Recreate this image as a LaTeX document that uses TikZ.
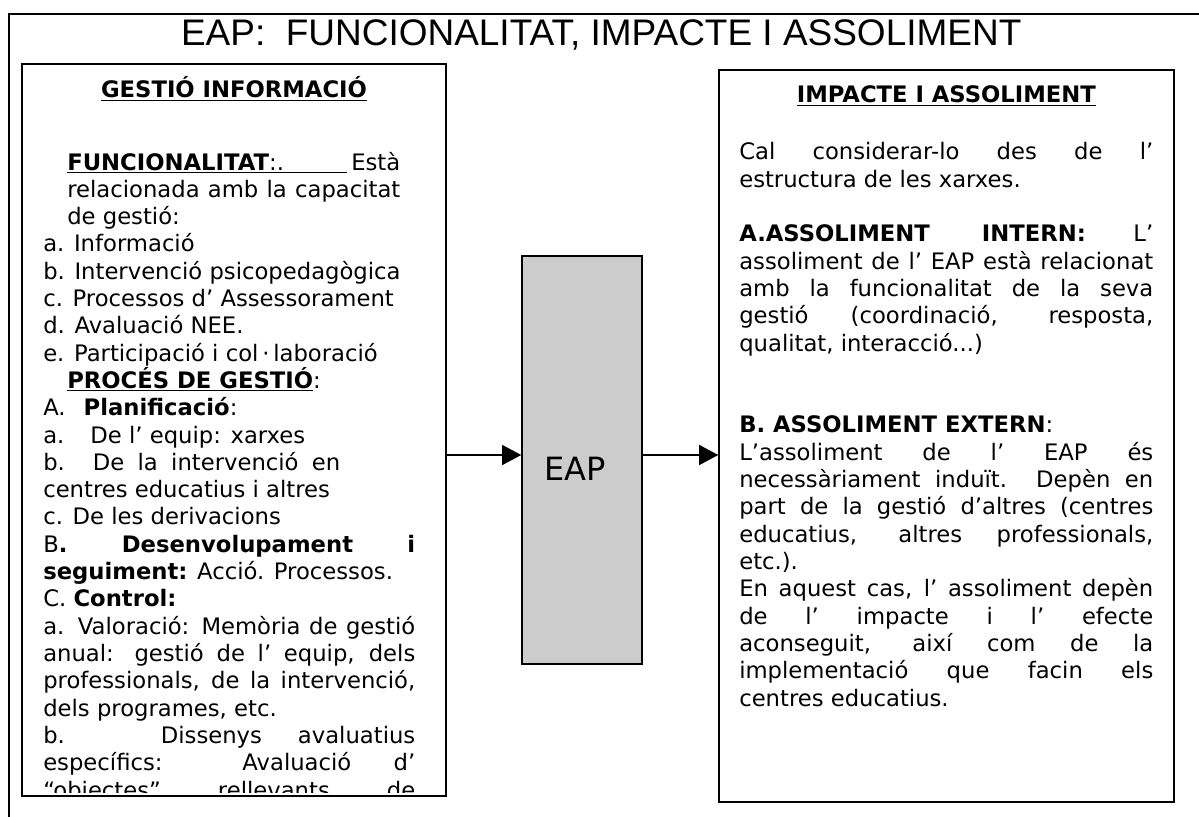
\documentclass[tikz,border=0pt]{standalone}
\usepackage{fontspec}
\setmainfont{DejaVu Sans}
\newfontfamily\titlefont{Liberation Sans}
\usepackage{tikz}
\usetikzlibrary{arrows.meta,positioning}
\definecolor{eapgray}{HTML}{CCCCCC}
\newcommand{\jl}[1]{\hbox to 9.3cm{#1}}
\newcommand{\jr}[1]{\hbox to 10.35cm{#1}}

\begin{document}
\begin{tikzpicture}[
    panel/.style={draw, line width=1.1pt, inner sep=0pt},
    bodytext/.style={anchor=base west, align=left, inner sep=0pt, font=\fontsize{16.15pt}{19.42pt}\selectfont},
    heading/.style={anchor=base, inner sep=0pt, font=\bfseries\fontsize{16.15pt}{19.42pt}\selectfont},
    flow/.style={line width=0.9pt, -{Triangle[length=0.475cm, width=0.5cm]}}
]
    \useasboundingbox (0,0) rectangle (29.975,20.4);

    % outer frame, cut by the page on the right and below
    \draw[line width=1.8pt] (0.225,-0.5) -- (0.225,20.05) -- (30.5,20.05);
    \node[font=\titlefont\fontsize{26.3pt}{30pt}\selectfont, anchor=base, inner sep=0pt] (titol) at (15.03,19.25) {EAP:\ \ FUNCIONALITAT, IMPACTE I ASSOLIMENT};

    % three boxes
    \node[panel, minimum width=10.6cm, minimum height=18.3cm] (gestio) at (5.85,9.65) {};
    \node[panel, minimum width=11.375cm, minimum height=18.3cm] (impacte) at (23.6625,9.5) {};
    \node[panel, fill=eapgray, minimum width=3cm, minimum height=10.2cm, font=\fontsize{22.8pt}{26pt}\selectfont, text height=1cm, text depth=0pt] (eap) at (14.55,8.9) {EAP\kern0.35cm};

    \coordinate (fletxa) at (0,9.025);
    \draw[flow] (gestio.east |- fletxa) -- (eap.west |- fletxa);
    \draw[flow] (eap.east |- fletxa) -- (impacte.west |- fletxa);

    % left box (the base of a multi-line node is its last line)
    \node[heading] (gestiotitol) at (5.85,17.95) {\underline{GESTIÓ INFORMACIÓ}};
    \begin{scope}
        \clip (0.55,0.58) rectangle (11.15,18.8);
        \node[bodytext] (gestiotext) at (1.075,0.45) {%
            \hbox to 8.925cm{\hspace{0.6cm}\underline{\hbox to 7cm{\textbf{FUNCIONALITAT}:.\hfil}}\hfil Està}\\
            \hbox to 8.925cm{\hspace{0.6cm}relacionada amb la capacitat}\\
            \hspace*{0.6cm}de gestió:\\
            a. Informació\\
            b. Intervenció psicopedagògica\\
            c. Processos d’ Assessorament\\
            d. Avaluació NEE.\\
            e. Participació i col\,·\,laboració\\
            \hspace*{0.6cm}\underline{\textbf{PROCÉS DE GESTIÓ}}:\\
            A.\hspace{0.45cm}\textbf{Planificació}:\\
            a.\hspace{0.65cm}De l’ equip: xarxes\\
            \hbox to 7.425cm{b. De la intervenció en}\\
            centres educatius i altres\\
            c. De les derivacions\\
            \jl{B\textbf{. Desenvolupament i}}\\
            \textbf{seguiment:} Acció. Processos.\\
            C. \textbf{Control:}\\
            \jl{a. Valoració: Memòria de gestió}\\
            \jl{anual: gestió de l’ equip, dels}\\
            \jl{professionals, de la intervenció,}\\
            dels programes, etc.\\
            \jl{b. Dissenys avaluatius}\\
            \jl{específics: Avaluació d’}\\
            \jl{“objectes” rellevants de}};
    \end{scope}

    % right box
    \node[heading] (impactetitol) at (23.66,17.825) {\underline{IMPACTE I ASSOLIMENT}};
    \node[bodytext] (impactetext) at (18.475,2.75) {%
        \jr{Cal considerar-lo des de l’}\\
        estructura de les xarxes.\\
        \mbox{}\\
        \jr{\textbf{A.ASSOLIMENT INTERN:} L’}\\
        \jr{assoliment de l’ EAP està relacionat}\\
        \jr{amb la funcionalitat de la seva}\\
        \jr{gestió (coordinació, resposta,}\\
        qualitat, interacció...)\\
        \mbox{}\\
        \mbox{}\\
        \textbf{B. ASSOLIMENT EXTERN}:\\
        \jr{L’assoliment de l’ EAP és}\\
        \jr{necessàriament induït.\ \ Depèn en}\\
        \jr{part de la gestió d’altres (centres}\\
        \jr{educatius, altres professionals,}\\
        etc.).\\
        \jr{En aquest cas, l’ assoliment depèn}\\
        \jr{de l’ impacte i l’ efecte}\\
        \jr{aconseguit, així com de la}\\
        \jr{implementació que facin els}\\
        centres educatius.};
\end{tikzpicture}
\end{document}
